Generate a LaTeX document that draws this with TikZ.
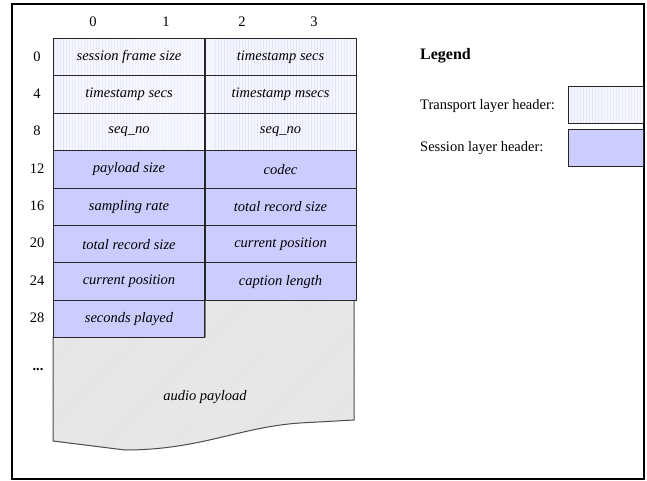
\documentclass[tikz,border=0pt]{standalone}
\usepackage{fontspec}
\setmainfont{Liberation Serif}
\usetikzlibrary{patterns}
\definecolor{sessfill}{HTML}{CCCCFF}
\definecolor{transfill}{HTML}{F6F6FF}
\definecolor{transline}{HTML}{E4E4FA}
\definecolor{payfill}{HTML}{EBEBEB}
\definecolor{payline}{HTML}{DEDEDE}
\begin{document}
\begin{tikzpicture}[x=1bp,y=-1bp,
  every node/.style={font=\fontsize{14.5bp}{17bp}\selectfont, inner sep=0pt},
  cell/.style={draw=black!85, line width=1bp, minimum width=151bp, minimum height=37.4bp, anchor=north west, font=\fontsize{14.5bp}{17bp}\selectfont\itshape},
  transport/.style={cell, preaction={fill=transfill}, pattern=vertical lines, pattern color=transline},
  session/.style={cell, fill=sessfill},
  lbl/.style={anchor=center},
  legtext/.style={anchor=west}]
  \useasboundingbox (0,0) rectangle (647,481);
  % outer frame
  \draw[line width=2bp] (12,4) rectangle (644,479);

  % column headers
  \node[lbl] (c0) at (93,22) {0};
  \node[lbl] (c1) at (166,22) {1};
  \node[lbl] (c2) at (242,22) {2};
  \node[lbl] (c3) at (314,22) {3};

  % audio payload with wavy lower edge
  \draw[draw=black!70, line width=1bp, preaction={fill=payfill},
        pattern=north east lines, pattern color=payline]
    (205,299.8) -- (354,299.8) -- (354,420) -- (300,423)
    .. controls (240,427) and (200,450) .. (125,450)
    -- (53,441) -- (53,337.2) -- (205,337.2) -- cycle;
  \node (pay) at (205,397) {\itshape audio payload};

  % header words, four bytes per row
  \node[transport] (r0a) at (53,38)    {session frame size};
  \node[transport] (r0b) at (204.5,38) {timestamp secs};
  \node[transport] (r1a) at (53,75.4)    {timestamp secs};
  \node[transport] (r1b) at (204.5,75.4) {timestamp msecs};
  \node[transport] (r2a) at (53,112.8)    {seq\_no};
  \node[transport] (r2b) at (204.5,112.8) {seq\_no};
  \node[session] (r3a) at (53,150.2)    {payload size};
  \node[session] (r3b) at (204.5,150.2) {codec};
  \node[session] (r4a) at (53,187.6)    {sampling rate};
  \node[session] (r4b) at (204.5,187.6) {total record size};
  \node[session] (r5a) at (53,225)    {total record size};
  \node[session] (r5b) at (204.5,225) {current position};
  \node[session] (r6a) at (53,262.4)    {current position};
  \node[session] (r6b) at (204.5,262.4) {caption length};
  \node[session] (r7a) at (53,299.8)    {seconds played};

  % byte offsets
  \node[lbl] (o0)  at (37,57)   {0};
  \node[lbl] (o4)  at (37,94)   {4};
  \node[lbl] (o8)  at (37,131)  {8};
  \node[lbl] (o12) at (37,169)  {12};
  \node[lbl] (o16) at (37,206)  {16};
  \node[lbl] (o20) at (37,243)  {20};
  \node[lbl] (o24) at (37,281)  {24};
  \node[lbl] (o28) at (37,318)  {28};
  \node[lbl, font=\fontsize{14.5bp}{17bp}\selectfont\bfseries] (odots) at (38,370) {...};

  % legend
  \node[legtext, font=\fontsize{16bp}{18bp}\selectfont\bfseries] (leg) at (420,56) {Legend};
  \node[legtext] (lt) at (420,106) {Transport layer header:};
  \node[legtext] (ls) at (420,148) {Session layer header:};
  \draw[draw=black!85, line width=1bp, preaction={fill=transfill},
        pattern=vertical lines, pattern color=transline]
    (568,87) rectangle (643,124);
  \draw[draw=black!85, line width=1bp, fill=sessfill] (568,130) rectangle (643,167);
\end{tikzpicture}
\end{document}
